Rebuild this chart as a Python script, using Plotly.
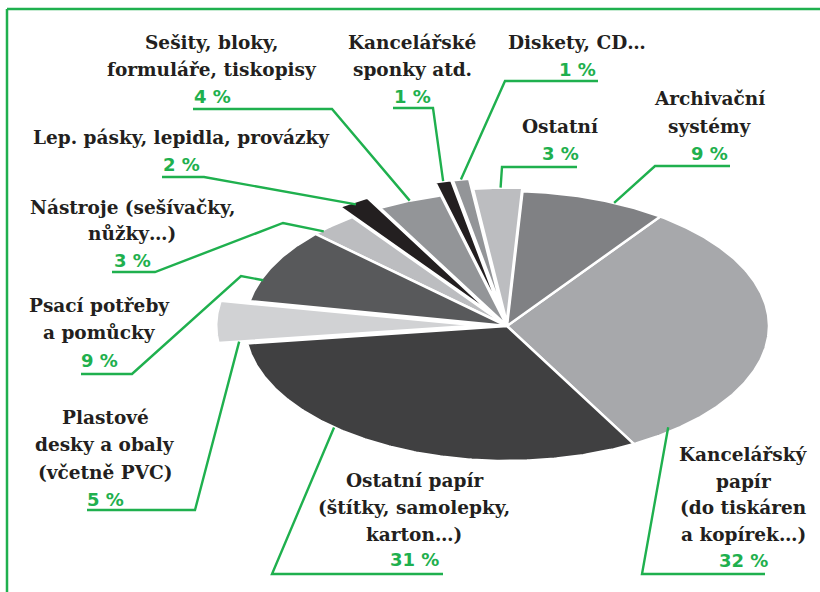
import numpy as np
import plotly.graph_objects as go

# ---------------- data ----------------
categories = [
    "Kancelářský papír (do tiskáren a kopírek…)",
    "Archivační systémy",
    "Ostatní",
    "Diskety, CD…",
    "Kancelářské sponky atd.",
    "Sešity, bloky, formuláře, tiskopisy",
    "Lep. pásky, lepidla, provázky",
    "Nástroje (sešívačky, nůžky…)",
    "Psací potřeby a pomůcky",
    "Plastové desky a obaly (včetně PVC)",
    "Ostatní papír (štítky, samolepky, karton…)",
]
label_lines = [
    ["Kancelářský", "papír", "(do tiskáren", "a kopírek…)"],
    ["Archivační", "systémy"],
    ["Ostatní"],
    ["Diskety, CD…"],
    ["Kancelářské", "sponky atd."],
    ["Sešity, bloky,", "formuláře, tiskopisy"],
    ["Lep. pásky, lepidla, provázky"],
    ["Nástroje (sešívačky,", "nůžky…)"],
    ["Psací potřeby", "a pomůcky"],
    ["Plastové", "desky a obaly", "(včetně PVC)"],
    ["Ostatní papír", "(štítky, samolepky,", "karton…)"],
]
values = [32, 9, 3, 1, 1, 4, 2, 3, 9, 5, 31]

# ---------------- styles / layout ----------------
colors = ["#a7a8ab", "#808184", "#bcbdc0", "#939598", "#231f20", "#939598",
          "#231f20", "#bcbdc0", "#58595b", "#d1d2d4", "#404041"]
explode = [0, 0, 0.025, 0.1, 0.1, 0, 0.09, 0, 0, 0.11, 0]
GREEN = "#1fb04e"
DARK = "#231f20"
FONT = "DejaVu Serif"
PFONT = "DejaVu Sans"

CX, CY, RX, RY = 507, 326, 262, 135
START = -61.0

# label layout: centre x, y of each name line, y of pct, underline, side joined, bends, anchor (fraction, radius)
label_layout = [
    dict(cx=743, ys=[454, 481, 507, 534], py=560, ul=(642, 765, 574), side="L", bends=[], anchor=(0.09, 0.97)),
    dict(cx=709, ys=[98, 126], py=153, ul=(655, 730, 166), side="L", bends=[], anchor=(0.36, 1.0)),
    dict(cx=560, ys=[126], py=153, ul=(502, 577, 167), side="L", bends=[], anchor=(0.44, 1.0)),
    dict(cx=577, ys=[42], py=69, ul=(505, 598, 81), side="L", bends=[], anchor=(0.5, 1.0)),
    dict(cx=412, ys=[42, 69], py=96, ul=(393, 433, 108), side="R", bends=[], anchor=(0.5, 1.0)),
    dict(cx=212, ys=[42, 69], py=96, ul=(193, 332, 109), side="R", bends=[], anchor=(0.5, 1.0)),
    dict(cx=181, ys=[137], py=164, ul=(162, 204, 177), side="R", bends=[], anchor=(0.5, 0.98)),
    dict(cx=132, ys=[207, 233], py=260, ul=(112, 155, 272), side="R", bends=[(283, 223)], anchor=(0.81, 0.99)),
    dict(cx=99, ys=[305, 332], py=360, ul=(81, 132, 374), side="R", bends=[(241, 276)], anchor=(0.71, 0.99)),
    dict(cx=105, ys=[417, 444, 472], py=499, ul=(87, 195, 510), side="R", bends=[], anchor=(1.0, 0.92)),
    dict(cx=414, ys=[480, 507, 534], py=559, ul=(272, 443, 574), side="L", bends=[], anchor=(0.37, 1.0)),
]

fig = go.Figure()

total = float(sum(values))
a0 = START
slice_info = []
for cat, v, col, ex in zip(categories, values, colors, explode):
    span = 360.0 * v / total
    a1 = a0 + span
    mid = np.radians((a0 + a1) / 2)
    dx = ex * RX * np.cos(mid)
    dy = -ex * RY * np.sin(mid)
    n = max(6, int(span * 2))
    th = np.radians(np.linspace(a0, a1, n))
    xs = np.concatenate([[CX], CX + RX * np.cos(th), [CX]]) + dx
    ys = np.concatenate([[CY], CY - RY * np.sin(th), [CY]]) + dy
    fig.add_trace(go.Scatter(x=xs, y=ys, mode="lines", fill="toself", fillcolor=col,
                             line=dict(color="white", width=2.5), name=cat,
                             hoveron="fills", text=f"{cat}: {v} %", hoverinfo="text"))
    slice_info.append((a0, a1, dx, dy))
    a0 = a1

annotations = []
for (a0, a1, dx, dy), lines, v, lay in zip(slice_info, label_lines, values, label_layout):
    frac, rf = lay["anchor"]
    ang = np.radians(a0 + frac * (a1 - a0))
    ax = CX + dx + rf * RX * np.cos(ang)
    ay = CY + dy - rf * RY * np.sin(ang)
    x0, x1, uy = lay["ul"]
    if lay["side"] == "L":
        px = [x1, x0] + [b[0] for b in lay["bends"]] + [ax]
    else:
        px = [x0, x1] + [b[0] for b in lay["bends"]] + [ax]
    py = [uy, uy] + [b[1] for b in lay["bends"]] + [ay]
    fig.add_trace(go.Scatter(x=px, y=py, mode="lines", line=dict(color=GREEN, width=2.4),
                             hoverinfo="skip", showlegend=False))
    for t, y in zip(lines, lay["ys"]):
        annotations.append(dict(x=lay["cx"], y=y, text=f"<b>{t}</b>", showarrow=False,
                                xanchor="center", yanchor="middle",
                                font=dict(family=FONT, size=18.5, color=DARK)))
    annotations.append(dict(x=lay["cx"], y=lay["py"], text=f"<b>{v} %</b>", showarrow=False,
                            xanchor="center", yanchor="middle",
                            font=dict(family=PFONT, size=18, color=GREEN)))

fig.update_layout(
    width=820, height=592,
    margin=dict(l=0, r=0, t=0, b=0),
    paper_bgcolor="white", plot_bgcolor="white",
    showlegend=False,
    xaxis=dict(range=[0, 820], visible=False, fixedrange=True),
    yaxis=dict(range=[592, 0], visible=False, fixedrange=True),
    annotations=annotations,
    shapes=[
        dict(type="line", xref="x", yref="y", x0=7, y0=9, x1=830, y1=9, line=dict(color=GREEN, width=2.5)),
        dict(type="line", xref="x", yref="y", x0=7, y0=9, x1=7, y1=600, line=dict(color=GREEN, width=2.5)),
    ],
)

fig.write_html("out.html", config={"displayModeBar": False},
               post_script="document.body.style.margin='0';document.body.style.overflow='hidden';")
